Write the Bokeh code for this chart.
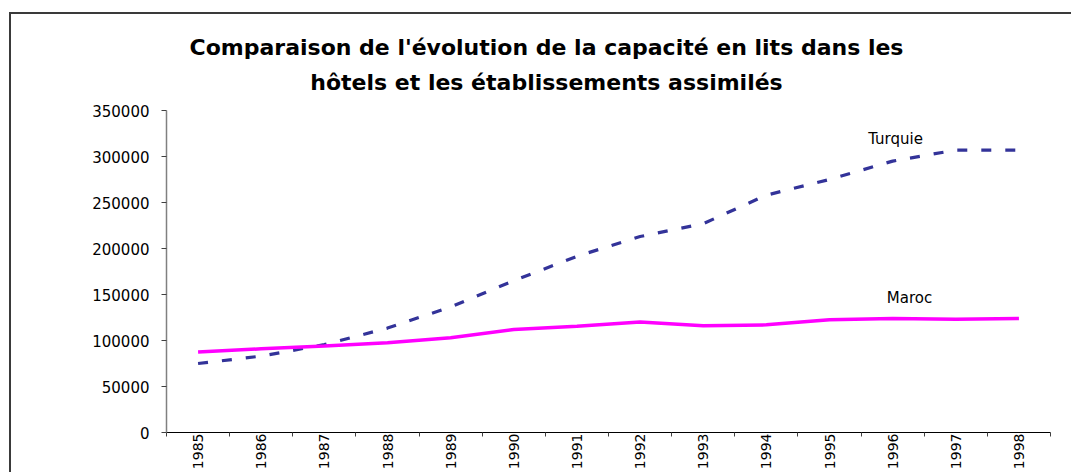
import math
from bokeh.plotting import figure
from bokeh.models import Range1d, FixedTicker, BasicTickFormatter, Label
from bokeh.embed import file_html
from bokeh.resources import INLINE

years = [1985, 1986, 1987, 1988, 1989, 1990, 1991, 1992, 1993, 1994, 1995, 1996, 1997, 1998]
turquie = [75000, 83000, 95500, 113500, 136500, 165000, 191500, 213000, 227000, 258000,
           275000, 295000, 307000, 307000]
maroc = [87500, 91000, 94000, 97500, 103000, 112000, 115500, 120000, 116000, 117000,
         122500, 124000, 123000, 124000]
y_ticks = [0, 50000, 100000, 150000, 200000, 250000, 300000, 350000]
title_lines = ["Comparaison de l'évolution de la capacité en lits dans les",
               "hôtels et les établissements assimilés"]

# layout constants (pixels)
W, H = 1071, 472
FRAME_L, FRAME_R, AXIS_TOP, FRAME_B = 166, 1050, 110, 432
# the frame reaches up to the top of the canvas so that the title texts lie inside it
y_top = y_ticks[-1] * FRAME_B / (FRAME_B - AXIS_TOP)

p = figure(width=W, height=H, output_backend="svg", toolbar_location=None,
           title=None, x_range=Range1d(years[0] - 0.5, years[-1] + 0.5),
           y_range=Range1d(y_ticks[0], y_top),
           min_border_left=FRAME_L, min_border_right=W - FRAME_R, min_border_top=0,
           min_border_bottom=H - FRAME_B)
p.outline_line_color = None
p.xgrid.visible = False
p.ygrid.visible = False
p.background_fill_color = None
p.border_fill_color = None
p.styles = {
    "background": "linear-gradient(#3a3a3a,#3a3a3a) 9px 12px / 2px 100% no-repeat, "
                  "linear-gradient(#3a3a3a,#3a3a3a) 9px 12px / 100% 2px no-repeat, white"
}

# x axis
xa = p.xaxis[0]
xa.ticker = FixedTicker(ticks=years, minor_ticks=[y - 0.5 for y in years] + [years[-1] + 0.5])
xa.major_label_orientation = math.pi / 2
xa.major_tick_out = 0
xa.major_tick_in = 0
xa.minor_tick_out = 4
xa.minor_tick_in = 0
xa.minor_tick_line_color = "#404040"
xa.axis_line_color = "black"
xa.axis_line_width = 1
xa.major_label_standoff = -3
xa.major_label_text_font = "DejaVu Sans"
xa.major_label_text_font_size = "14px"
xa.major_label_text_color = "black"

# y axis
ya = p.yaxis[0]
ya.bounds = (y_ticks[0], y_ticks[-1])
ya.ticker = FixedTicker(ticks=y_ticks)
ya.formatter = BasicTickFormatter(use_scientific=False)
ya.axis_line_color = "#808080"
ya.axis_line_width = 1.5
ya.major_tick_out = 5
ya.major_tick_in = 0
ya.major_tick_line_color = "#404040"
ya.minor_tick_line_color = None
ya.major_label_standoff = 12
ya.major_label_text_font = "DejaVu Sans"
ya.major_label_text_font_size = "15px"
ya.major_label_text_color = "black"

p.line(years, turquie, line_color="#333399", line_width=3.2, line_dash="10 14")
p.line(years, maroc, line_color="#FF00FF", line_width=3.5)

p.add_layout(Label(x=729, y=294, x_units="screen", y_units="screen", text="Turquie",
                   text_font="DejaVu Sans", text_font_size="15px", text_align="center",
                   text_baseline="middle", text_color="black"))
p.add_layout(Label(x=743, y=135, x_units="screen", y_units="screen", text="Maroc",
                   text_font="DejaVu Sans", text_font_size="15px", text_align="center",
                   text_baseline="middle", text_color="black"))

p.add_layout(Label(x=380, y=385, x_units="screen", y_units="screen", text=title_lines[0],
                   text_font="DejaVu Sans", text_font_size="22px", text_font_style="bold",
                   text_align="center", text_baseline="middle", text_color="black"))
p.add_layout(Label(x=380, y=350, x_units="screen", y_units="screen", text=title_lines[1],
                   text_font="DejaVu Sans", text_font_size="22px", text_font_style="bold",
                   text_align="center", text_baseline="middle", text_color="black"))

open("out.html", "w").write(file_html(p, INLINE))
